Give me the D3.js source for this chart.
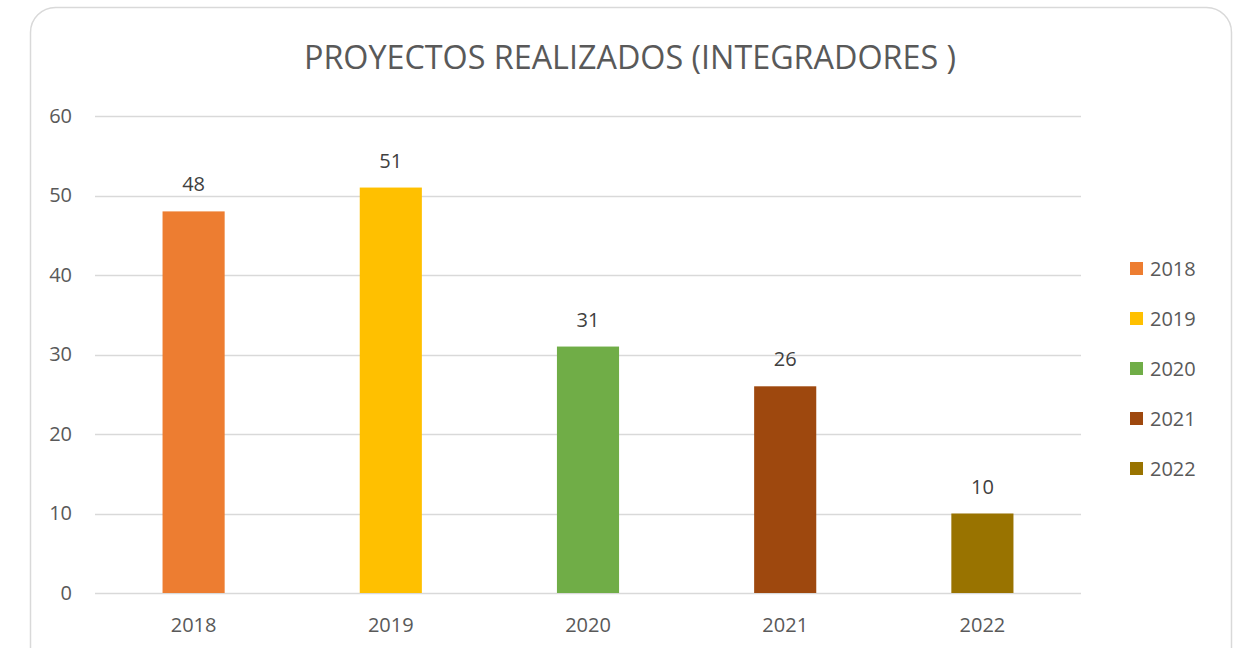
<!DOCTYPE html>
<html>
<head>
<meta charset="utf-8">
<script src="https://cdn.jsdelivr.net/npm/d3@7/dist/d3.min.js"></script>
<style>
  html, body { margin: 0; padding: 0; background: #fff; }
  svg { display: block; font-family: "Open Sans", "Noto Sans", sans-serif; }
</style>
</head>
<body>
<svg id="chart" width="1233" height="648"></svg>
<script>
const title = "PROYECTOS REALIZADOS (INTEGRADORES )";
const years = ["2018", "2019", "2020", "2021", "2022"];
const proyectos = [48, 51, 31, 26, 10];
const colores = ["#ED7D31", "#FFC000", "#70AD47", "#9E480E", "#997300"];
const yTicks = [0, 10, 20, 30, 40, 50, 60];

const svg = d3.select("#chart");
const textColor = "#595959";
const labelFont = "'Open Sans', 'Noto Sans', sans-serif";

// card frame
svg.append("rect")
  .attr("x", 30.5).attr("y", 7.5)
  .attr("width", 1201).attr("height", 700)
  .attr("rx", 25).attr("ry", 25)
  .attr("fill", "#fff").attr("stroke", "#d9d9d9").attr("stroke-width", 1.5);

const plot = { left: 95, right: 1081, top: 116, bottom: 593 };

const x = d3.scaleBand().domain(years).range([plot.left, plot.right]).paddingInner(0.685).paddingOuter(0.3425);
const y = d3.scaleLinear().domain([0, 60]).range([plot.bottom, plot.top]);

// title
svg.append("text")
  .attr("x", 630).attr("y", 69)
  .attr("text-anchor", "middle")
  .attr("fill", textColor)
  .style("font-size", "32.3px")
  .text(title);

// gridlines
svg.append("g").selectAll("line").data(yTicks).join("line")
  .attr("x1", plot.left).attr("x2", plot.right)
  .attr("y1", d => Math.round(y(d)) + 0.5).attr("y2", d => Math.round(y(d)) + 0.5)
  .attr("stroke", "#d9d9d9").attr("stroke-width", 1.3);

// y axis labels
const yAxis = d3.axisLeft(y).tickValues(yTicks).tickSize(0).tickPadding(0);
const gy = svg.append("g").attr("transform", `translate(${plot.left - 23},0)`).call(yAxis);
gy.select(".domain").remove();
gy.selectAll("text").attr("fill", textColor).style("font-size", "20px").style("font-family", labelFont);

// x axis labels
const xAxis = d3.axisBottom(x).tickSize(0).tickPadding(0);
const gx = svg.append("g").attr("transform", `translate(0,${plot.bottom + 25})`).call(xAxis);
gx.select(".domain").remove();
gx.selectAll("text").attr("fill", textColor).style("font-size", "20px").style("font-family", labelFont);

// bars
svg.append("g").selectAll("rect").data(years).join("rect")
  .attr("x", d => x(d))
  .attr("width", x.bandwidth())
  .attr("y", (d, i) => y(proyectos[i]))
  .attr("height", (d, i) => y(0) - y(proyectos[i]))
  .attr("fill", (d, i) => colores[i]);

// value labels
svg.append("g").selectAll("text").data(years).join("text")
  .attr("x", d => x(d) + x.bandwidth() / 2)
  .attr("y", (d, i) => y(proyectos[i]) - 20)
  .attr("text-anchor", "middle")
  .attr("fill", "#404040")
  .style("font-size", "20px")
  .text((d, i) => proyectos[i]);

// legend
const legend = svg.append("g").selectAll("g").data(years).join("g")
  .attr("transform", (d, i) => `translate(1130,${262 + i * 50})`);
legend.append("rect").attr("width", 13).attr("height", 13).attr("fill", (d, i) => colores[i]);
legend.append("text").attr("x", 20).attr("y", 14)
  .attr("fill", textColor).style("font-size", "20px").text(d => d);
</script>
</body>
</html>
